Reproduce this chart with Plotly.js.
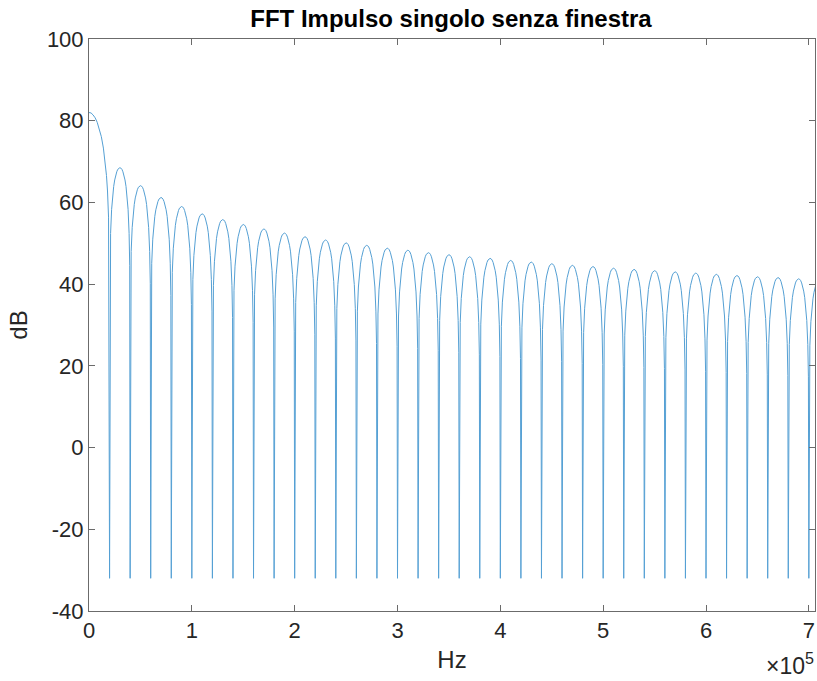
<!DOCTYPE html>
<html>
<head>
<meta charset="utf-8">
<script src="https://cdn.plot.ly/plotly-3.0.1.min.js"></script>
<style>html,body{margin:0;padding:0;background:#fff;}#chart{width:817px;height:681px;}</style>
</head>
<body>
<div id="chart"></div>
<script>
// ---- data ----
const nullSpacingHz = 20000;            // distance between nulls of the spectrum
const nullFloorDb = -32;                // level reached at each null
const xMaxHz = 706000;                  // right end of the frequency axis
// main lobe (0 Hz up to first null)
const mainLobeHz = [0, 2000, 4000, 6000, 8000, 10000, 12000, 14000, 16000, 17000, 18000, 19000];
const mainLobeDb = [82, 81.9, 81.4, 80.7, 79.6, 78.1, 76.1, 73.3, 69.4, 66.6, 62.8, 56.4];
// peak level of each side lobe (lobe 1 .. 35)
const sideLobePeakDb = [68.5, 64.1, 61.2, 59.0, 57.2, 55.8, 54.6, 53.5, 52.5, 51.6,
                        50.8, 50.1, 49.5, 48.8, 48.3, 47.7, 47.2, 46.7, 46.3, 45.8,
                        45.4, 45.0, 44.6, 44.3, 43.9, 43.6, 43.3, 43.0, 42.7, 42.4,
                        42.1, 41.8, 41.6, 41.3, 41.0];
// shape of one side lobe: position inside the lobe (fraction of lobe width) and drop below the peak
const lobeShapeFrac = [0.02, 0.05, 0.1, 0.15, 0.2, 0.25, 0.3, 0.35, 0.4, 0.45, 0.5];
const lobeShapeDropDb = [-24, -16.1, -10.2, -6.9, -4.6, -3.0, -1.8, -1.0, -0.4, -0.1, 0];
const xTickVals = [0, 100000, 200000, 300000, 400000, 500000, 600000, 700000];
const xTickText = ['0', '1', '2', '3', '4', '5', '6', '7'];
const yTickVals = [-40, -20, 0, 20, 40, 60, 80, 100];
const yTickText = ['-40', '-20', '0', '20', '40', '60', '80', '100'];

// ---- build the curve from the arrays ----
const xs = [], ys = [];
mainLobeHz.forEach((f, i) => { xs.push(f); ys.push(mainLobeDb[i]); });
sideLobePeakDb.forEach((peak, j) => {
  const k = j + 1;
  xs.push(k * nullSpacingHz); ys.push(nullFloorDb);
  lobeShapeFrac.forEach((u, i) => { xs.push((k + u) * nullSpacingHz); ys.push(peak + lobeShapeDropDb[i]); });
  for (let i = lobeShapeFrac.length - 2; i >= 0; i--) {
    xs.push((k + 1 - lobeShapeFrac[i]) * nullSpacingHz); ys.push(peak + lobeShapeDropDb[i]);
  }
});
xs.push((sideLobePeakDb.length + 1) * nullSpacingHz); ys.push(nullFloorDb);

const font = 'Liberation Sans, Arial, Helvetica, sans-serif';
const axisCol = '#6b6b6b';
const trace = {
  x: xs, y: ys, type: 'scatter', mode: 'lines',
  line: {color: '#55a0d4', width: 1}, hoverinfo: 'skip'
};
const layout = {
  width: 817, height: 681,
  margin: {l: 89, r: 2, t: 39, b: 70},
  paper_bgcolor: '#ffffff', plot_bgcolor: '#ffffff',
  showlegend: false,
  font: {family: font, color: '#262626'},
  title: {text: '<b>FFT Impulso singolo senza finestra</b>', font: {family: font, size: 24, color: '#000'},
          x: 0.552, xanchor: 'center', y: 0.972, yanchor: 'middle'},
  xaxis: {
    range: [0, xMaxHz], tickvals: xTickVals, ticktext: xTickText,
    showgrid: false, zeroline: false, showline: true, mirror: 'ticks',
    linecolor: axisCol, linewidth: 1, ticks: 'inside', ticklen: 6, tickcolor: axisCol,
    tickfont: {family: font, size: 22, color: '#262626'},
    title: {text: 'Hz', font: {family: font, size: 24, color: '#262626'}, standoff: 8}
  },
  yaxis: {
    range: [-40, 100], tickvals: yTickVals, ticktext: yTickText,
    showgrid: false, zeroline: false, showline: true, mirror: 'ticks',
    linecolor: axisCol, linewidth: 1, ticks: 'inside', ticklen: 6, tickcolor: axisCol,
    tickfont: {family: font, size: 22, color: '#262626'},
    title: {text: 'dB', font: {family: font, size: 24, color: '#262626'}, standoff: 12}
  },
  annotations: [{
    text: '×10<sup>5</sup>', xref: 'paper', yref: 'paper', x: 1.0, y: -0.121,
    xanchor: 'right', yanchor: 'bottom', showarrow: false, borderpad: 0,
    font: {family: font, size: 23, color: '#262626'}
  }]
};
Plotly.newPlot('chart', [trace], layout, {displayModeBar: false, staticPlot: true});
</script>
</body>
</html>
